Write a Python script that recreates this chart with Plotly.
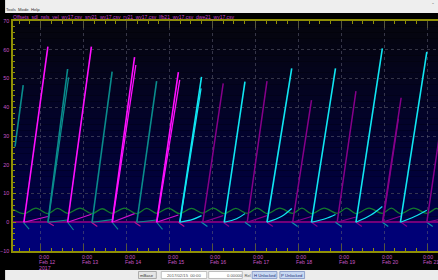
import plotly.graph_objects as go
import pandas as pd

# ---------------- data ----------------
# bright magenta ramps
mag_start = ["2017-02-11 14:37", "2017-02-12 15:04", "2017-02-13 15:56", "2017-02-14 16:48"]
mag_peak_t = ["2017-02-12 04:02", "2017-02-13 04:21", "2017-02-14 04:28", "2017-02-15 04:57"]
mag_peak_v = [61.1, 61.1, 57.4, 52.2]
mag_sh_v = [2.0, 2.8, 3.0, 2.5]
mag_dip_v = [-1.2, -1.5, -1.4, -1.5]
# second (shadow) magenta ramps
mag2_start = ["2017-02-13 16:05", "2017-02-14 16:55"]
mag2_peak_t = ["2017-02-14 05:11", "2017-02-15 05:43"]
mag2_peak_v = [54.7, 49.5]

# dim purple ramps
pur_start = ["2017-02-15 18:35", "2017-02-16 19:26", "2017-02-17 20:51", "2017-02-18 21:42",
             "2017-02-19 22:57", "2017-02-20 23:48"]
pur_peak_t = ["2017-02-16 06:01", "2017-02-17 06:29", "2017-02-18 07:21", "2017-02-19 08:12",
              "2017-02-20 09:27", "2017-02-21 07:00"]
pur_peak_v = [48.3, 49.1, 42.5, 45.6, 43.3, 31.0]
pur_sh_v = [2.3, 2.3, 2.0, 1.8, 2.2, 1.0]
pur_dip_v = [-1.5, -1.5, -1.5, -1.5, -1.5, -1.5]
pur2_start = ["2017-02-19 23:20"]
pur2_peak_t = ["2017-02-20 07:57"]
pur2_peak_v = [36.0]

# dark teal ramps
teal_start = ["2017-02-11 09:39", "2017-02-12 04:02", "2017-02-13 04:44", "2017-02-14 05:44"]
teal_start_v = [26.3, 0.0, 0.0, 0.0]
teal_peak_t = ["2017-02-11 14:14", "2017-02-12 15:04", "2017-02-13 15:56", "2017-02-14 16:48"]
teal_peak_v = [47.7, 53.3, 52.4, 49.1]
teal_sh_v = [0.0, 0.8, 0.9, 0.8]
teal_dip_v = [-2.4, -2.7, -2.5, -2.5]
teal2_start = ["2017-02-12 04:10"]
teal2_peak_t = ["2017-02-12 15:37"]
teal2_peak_v = [50.4]

# bright cyan ramps
cyan_start = ["2017-02-15 05:43", "2017-02-16 06:35", "2017-02-17 06:29", "2017-02-18 07:21",
              "2017-02-19 08:12", "2017-02-20 09:03"]
cyan_peak_t = ["2017-02-15 17:53", "2017-02-16 18:10", "2017-02-17 20:18", "2017-02-18 20:46",
               "2017-02-19 22:57", "2017-02-20 23:48"]
cyan_peak_v = [50.6, 48.9, 53.5, 53.5, 60.5, 59.3]
cyan_sh_mid_t = ["2017-02-15 13:00", "2017-02-16 13:30", "2017-02-17 14:30", "2017-02-18 15:00",
                 "2017-02-19 16:30", "2017-02-20 17:00"]
cyan_sh_mid_v = [1.0, 1.2, 2.0, 1.2, 2.5, 2.0]
cyan_sh_v = [2.3, 3.0, 4.8, 2.7, 5.5, 4.2]
cyan_dip_v = [-1.5, -1.5, -1.5, -1.5, -1.5, -1.5]
cyan2_start = ["2017-02-15 05:50"]
cyan2_peak_t = ["2017-02-15 17:38"]
cyan2_peak_v = [46.6]

# green wave
green_t = ["2017-02-11 08:30", "2017-02-11 14:37", "2017-02-11 21:20", "2017-02-12 04:02",
           "2017-02-12 09:30", "2017-02-12 15:04", "2017-02-12 22:00", "2017-02-13 04:44",
           "2017-02-13 10:20", "2017-02-13 15:56", "2017-02-13 22:50", "2017-02-14 05:44",
           "2017-02-14 11:15", "2017-02-14 16:48", "2017-02-14 23:15", "2017-02-15 05:43",
           "2017-02-15 12:10", "2017-02-15 18:35", "2017-02-16 00:35", "2017-02-16 06:35",
           "2017-02-16 13:00", "2017-02-16 19:26", "2017-02-17 01:00", "2017-02-17 06:29",
           "2017-02-17 13:40", "2017-02-17 20:51", "2017-02-18 02:00", "2017-02-18 07:21",
           "2017-02-18 14:30", "2017-02-18 21:42", "2017-02-19 03:00", "2017-02-19 08:12",
           "2017-02-19 15:30", "2017-02-19 22:57", "2017-02-20 04:00", "2017-02-20 09:03",
           "2017-02-20 16:30", "2017-02-20 23:48", "2017-02-21 05:00", "2017-02-21 06:10"]
green_v = [4.5, 3.0, 4.9, 3.0, 4.8, 3.1, 4.9, 3.0, 4.7, 3.1, 4.9, 3.0, 4.8, 3.1, 4.9, 3.0,
           4.8, 3.2, 4.9, 3.0, 4.8, 3.1, 4.9, 3.0, 4.9, 3.1, 4.9, 3.0, 4.9, 3.1, 4.9, 3.0,
           4.9, 3.1, 4.9, 3.0, 4.9, 3.1, 4.8, 4.6]

# axis labels
day_ticks = ["2017-02-12", "2017-02-13", "2017-02-14", "2017-02-15", "2017-02-16",
             "2017-02-17", "2017-02-18", "2017-02-19", "2017-02-20", "2017-02-21"]
day_labels = ["Feb 12", "Feb 13", "Feb 14", "Feb 15", "Feb 16",
              "Feb 17", "Feb 18", "Feb 19", "Feb 20", "Feb 21"]
time_label = "0:00"
year_label = "2017"
legend_words = ["Offsets", "sdl_rwls_vel_wy17.csv", "srv21_wy17.csv", "ry21_wy17.csv",
                "lfb21_wy17.csv", "dwe21_wy17.csv"]
menu_words = ["Tools", "Mode", "Help"]

X_RANGE = ["2017-02-11 08:32", "2017-02-21 06:03"]
Y_RANGE = [-10, 70]
DIP_HOURS = 3.3

# ---------------- helpers ----------------
def ramps(starts, peaks_t, peaks_v, start_v=None):
    xs, ys = [], []
    for i, (s, t, v) in enumerate(zip(starts, peaks_t, peaks_v)):
        xs += [s, t, None]
        ys += [start_v[i] if start_v else 0.0, v, None]
    return xs, ys

def dips(peaks_t, dip_v):
    xs, ys = [], []
    for t, v in zip(peaks_t, dip_v):
        t2 = (pd.Timestamp(t) + pd.Timedelta(hours=DIP_HOURS)).strftime("%Y-%m-%d %H:%M")
        xs += [t, t2, None]
        ys += [0.0, v, None]
    return xs, ys

def shallow(starts, peaks_t, vals, mid_t=None, mid_v=None):
    xs, ys = [], []
    for i, (s, t, v) in enumerate(zip(starts, peaks_t, vals)):
        if mid_t:
            xs += [s, mid_t[i], t, None]
            ys += [0.0, mid_v[i], v, None]
        else:
            xs += [s, t, None]
            ys += [0.0, v, None]
    return xs, ys

MAG = "#ff10ff"
PUR = "#86008a"
TEAL = "#0a8c8c"
CYAN = "#10e6f2"
GREEN = "#137a2c"

fig = go.Figure()

def add(xy, color, width=1.5, shape="linear", opacity=1.0):
    fig.add_trace(go.Scatter(x=xy[0], y=xy[1], mode="lines", connectgaps=False,
                             line=dict(color=color, width=width, shape=shape),
                             opacity=opacity, hoverinfo="skip", showlegend=False))

# background small traces
add((green_t, green_v), GREEN, 1.3, "spline")
add(dips(mag_peak_t, mag_dip_v), "#c01090", 1.1)
add(dips(pur_peak_t[:-1], pur_dip_v[:-1]), PUR, 1.1)
add(dips(teal_peak_t, teal_dip_v), TEAL, 1.1)
add(dips(cyan_peak_t, cyan_dip_v), "#0a9aa8", 1.1)
add(shallow(mag_start, mag_peak_t, mag_sh_v), "#d010d0", 1.1)
add(shallow(pur_start, pur_peak_t, pur_sh_v), PUR, 1.1)
add(shallow(teal_start[1:], teal_peak_t[1:], teal_sh_v[1:]), TEAL, 1.1)
add(shallow(cyan_start, cyan_peak_t, cyan_sh_v, cyan_sh_mid_t, cyan_sh_mid_v), CYAN, 1.2, "spline")

# big ramps
add(ramps(pur2_start, pur2_peak_t, pur2_peak_v), PUR, 1.2)
add(ramps(pur_start, pur_peak_t, pur_peak_v), PUR, 1.5)
add(ramps(teal2_start, teal2_peak_t, teal2_peak_v), TEAL, 1.3)
add(ramps(teal_start, teal_peak_t, teal_peak_v, teal_start_v), TEAL, 1.6)
add(ramps(mag2_start, mag2_peak_t, mag2_peak_v), MAG, 1.3)
add(ramps(mag_start, mag_peak_t, mag_peak_v), MAG, 1.6)
add(ramps(cyan2_start, cyan2_peak_t, cyan2_peak_v), CYAN, 1.3)
add(ramps(cyan_start, cyan_peak_t, cyan_peak_v), CYAN, 1.6)

# ---------------- layout ----------------
W, H = 438, 280
ML, MR, MT, MB = 8, 0, 21, 29
PW, PH = W - ML - MR, H - MT - MB

def px(x):
    return (x - ML) / PW

def py(y):
    return (H - MB - y) / PH

shapes = []
# plot background gradient (black at top -> navy at zero) and brighter navy below zero
NB = 35
top_c = (5, 5, 12)
bot_c = (0, 0, 72)
for i in range(NB):
    f = (i + 0.5) / NB
    c = tuple(int(round(bot_c[k] + (top_c[k] - bot_c[k]) * f)) for k in range(3))
    shapes.append(dict(type="rect", xref="paper", yref="y", x0=0, x1=1,
                       y0=i * 70 / NB, y1=(i + 1) * 70 / NB, line=dict(width=0),
                       fillcolor="rgb(%d,%d,%d)" % c, layer="below"))
shapes.append(dict(type="rect", xref="paper", yref="y", x0=0, x1=1, y0=-10, y1=0,
                   line=dict(width=0), fillcolor="rgb(0,0,118)", layer="below"))

# menu bar and status bar
shapes.append(dict(type="rect", xref="paper", yref="paper", x0=px(0), x1=px(W), y0=py(13), y1=py(0),
                   line=dict(width=0), fillcolor="#eeeeee", layer="above"))
shapes.append(dict(type="rect", xref="paper", yref="paper", x0=px(0), x1=px(W), y0=py(280), y1=py(270),
                   line=dict(width=0), fillcolor="#ececec", layer="above"))
buttons = [
    (135, 153, "#e6e6e6", "#9a9a9a"),
    (158, 204, "#ffffff", "#b0b0b0"),
    (206, 240, "#ffffff", "#b0b0b0"),
    (250, 275, "#c9d9f2", "#7f93c4"),
    (278, 303, "#c9d9f2", "#7f93c4"),
]
for x0, x1, fc, lc in buttons:
    shapes.append(dict(type="rect", xref="paper", yref="paper", x0=px(x0), x1=px(x1),
                       y0=py(278.5), y1=py(271.5), line=dict(width=0.8, color=lc),
                       fillcolor=fc, layer="above"))

annotations = []
LBL = "#c655c6"
FONT = "Liberation Sans"
for i, (d, lab) in enumerate(zip(day_ticks, day_labels)):
    sh = -4 if i < len(day_ticks) - 1 else -6
    annotations.append(dict(x=d, y=py(256.8), xref="x", yref="paper", text=time_label,
                            showarrow=False, xanchor="left", yanchor="middle", xshift=sh,
                            font=dict(size=5.2, color=LBL, family=FONT)))
    annotations.append(dict(x=d, y=py(262.4), xref="x", yref="paper", text=lab,
                            showarrow=False, xanchor="left", yanchor="middle", xshift=sh,
                            font=dict(size=5.2, color=LBL, family=FONT)))
annotations.append(dict(x=day_ticks[0], y=py(267.8), xref="x", yref="paper", text=year_label,
                        showarrow=False, xanchor="left", yanchor="middle", xshift=-4,
                        font=dict(size=5.2, color=LBL, family=FONT)))

# legend header (one line)
annotations.append(dict(x=px(6), y=py(16.8), xref="paper", yref="paper",
                        text="&nbsp;&nbsp;".join(legend_words),
                        showarrow=False, xanchor="left", yanchor="middle",
                        font=dict(size=5, color="#c846cc", family=FONT)))
# menu
annotations.append(dict(x=px(-1), y=py(9.5), xref="paper", yref="paper",
                        text="&nbsp;&nbsp;".join(menu_words),
                        showarrow=False, xanchor="left", yanchor="middle",
                        font=dict(size=4.2, color="#333333", family=FONT)))
annotations.append(dict(x=px(436), y=py(3), xref="paper", yref="paper", text="-",
                        showarrow=False, xanchor="right", yanchor="middle",
                        font=dict(size=6, color="#555555", family=FONT)))
# status bar texts
status = [(144, "mBase", "#333333"), (181, "2017/02/15  00:00", "#555555"),
          (236.5, "0.00000  Rel", "#555555"), (262.5, "H Unlocked", "#1a2f7a"),
          (290.5, "P Unlocked", "#1a2f7a")]
for xx, w, c in status:
    annotations.append(dict(x=px(xx), y=py(275), xref="paper", yref="paper", text=w,
                            showarrow=False, xanchor="center", yanchor="middle",
                            font=dict(size=4.2, color=c, family=FONT)))

OLIVE = "#8f8f06"
fig.update_layout(
    width=W, height=H,
    margin=dict(l=ML, r=MR, t=MT, b=MB, pad=0),
    paper_bgcolor="black", plot_bgcolor="black",
    showlegend=False,
    shapes=shapes, annotations=annotations,
    xaxis=dict(type="date", range=X_RANGE, showgrid=True, gridcolor="rgba(95,95,115,0.55)",
               griddash="dot", gridwidth=1, tick0="2017-02-12", dtick=86400000,
               showticklabels=False, ticks="inside", ticklen=7, tickcolor="#55553a",
               tickwidth=1, showline=True, linecolor=OLIVE, linewidth=1.5, mirror="ticks",
               minor=dict(dtick=6 * 3600 * 1000, ticks="inside", ticklen=3,
                          tickcolor=OLIVE, showgrid=False),
               zeroline=False),
    yaxis=dict(range=Y_RANGE, dtick=10, tick0=0, showgrid=True,
               gridcolor="rgba(95,95,115,0.55)", griddash="dot", gridwidth=1,
               ticks="inside", ticklen=3, tickcolor=OLIVE, showline=True, linecolor=OLIVE,
               linewidth=1.5, minor=dict(dtick=2, ticks="inside", ticklen=2, tickcolor=OLIVE,
                                         showgrid=False),
               zeroline=True, zerolinecolor="#74007a", zerolinewidth=1.5,
               tickfont=dict(size=5.4, color=LBL, family=FONT), ticklabelstandoff=1),
)

fig.write_html("out.html")
